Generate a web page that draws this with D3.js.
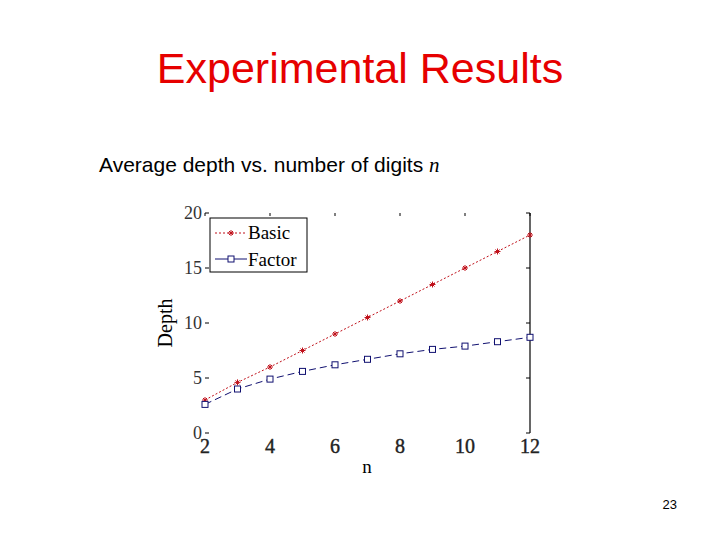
<!DOCTYPE html>
<html><head><meta charset="utf-8">
<script src="https://cdn.jsdelivr.net/npm/d3@7"></script>
<style>body{margin:0;background:#fff}</style>
</head><body><div id="root"></div>
<script>
let nValues = [2, 3, 4, 5, 6, 7, 8, 9, 10, 11, 12];
let basic = [3.0, 4.6, 6.0, 7.5, 9.0, 10.5, 12.0, 13.5, 15.0, 16.5, 18.0];
let factor = [2.6, 4.0, 4.9, 5.6, 6.2, 6.7, 7.2, 7.6, 7.9, 8.3, 8.7];
let xTicks = [2, 4, 6, 8, 10, 12];
let yTicks = [0, 5, 10, 15, 20];

let svg = d3.select('#root').append('svg').attr('width', 720).attr('height', 540);

svg.append('text').attr('x', 360).attr('y', 83).attr('text-anchor', 'middle')
    .attr('font-family', 'Liberation Sans, Arial').attr('font-size', 43).attr('fill', '#e60000')
    .text('Experimental Results');
let sub = svg.append('text').attr('x', 99).attr('y', 172)
    .attr('font-family', 'Liberation Sans, Arial').attr('font-size', 21).attr('fill', '#000');
sub.append('tspan').text('Average depth vs. number of digits ');
sub.append('tspan').attr('font-family', 'Liberation Serif, Times New Roman').attr('font-style', 'italic').text('n');
svg.append('text').attr('x', 677).attr('y', 509).attr('text-anchor', 'end')
    .attr('font-family', 'Liberation Sans, Arial').attr('font-size', 13).text('23');

let x = d3.scaleLinear().domain([2, 12]).range([205, 530]);
let y = d3.scaleLinear().domain([0, 20]).range([433, 213]);
let serif = 'Liberation Serif, Times New Roman';

// right spine
svg.append('line').attr('x1', x(12)).attr('x2', x(12)).attr('y1', y(20)).attr('y2', y(0))
    .attr('stroke', '#000').attr('stroke-width', 1.2);

// ticks
svg.selectAll('.yt').data(yTicks).join('line')
    .attr('x1', x(2)).attr('x2', x(2) + 4).attr('y1', d => y(d)).attr('y2', d => y(d)).attr('stroke', '#000');
svg.selectAll('.yr').data(yTicks).join('line')
    .attr('x1', x(12) - 4).attr('x2', x(12)).attr('y1', d => y(d)).attr('y2', d => y(d)).attr('stroke', '#000');
svg.selectAll('.xt').data(xTicks).join('line')
    .attr('x1', d => x(d)).attr('x2', d => x(d)).attr('y1', y(20)).attr('y2', y(20) + 3).attr('stroke', '#000');

svg.selectAll('.yl').data(yTicks).join('text')
    .attr('x', x(2) - 3).attr('y', d => y(d) + 6).attr('text-anchor', 'end')
    .attr('font-family', serif).attr('font-size', 18).attr('fill', '#333').text(d => d);
svg.selectAll('.xl').data(xTicks).join('text')
    .attr('x', d => x(d)).attr('y', 453).attr('text-anchor', 'middle')
    .attr('font-family', serif).attr('font-size', 20).attr('fill', '#222')
    .attr('stroke', '#222').attr('stroke-width', 0.4).text(d => d);
svg.append('text').attr('x', 367).attr('y', 473).attr('text-anchor', 'middle')
    .attr('font-family', serif).attr('font-size', 19).text('n');
svg.append('text').attr('transform', 'translate(172,323) rotate(-90)').attr('text-anchor', 'middle')
    .attr('font-family', serif).attr('font-size', 20).text('Depth');

let line = d3.line().x((d, i) => x(nValues[i])).y(d => y(d));
svg.append('path').datum(basic).attr('d', line).attr('fill', 'none')
    .attr('stroke', '#c0101a').attr('stroke-width', 1).attr('stroke-dasharray', '2,2');
svg.append('path').datum(factor).attr('d', line).attr('fill', 'none')
    .attr('stroke', '#101070').attr('stroke-width', 1).attr('stroke-dasharray', '7,4');

function star(g, cx, cy) {
    g.append('path').attr('d', `M${cx - 3},${cy}H${cx + 3}M${cx},${cy - 3}V${cy + 3}M${cx - 2},${cy - 2}L${cx + 2},${cy + 2}M${cx - 2},${cy + 2}L${cx + 2},${cy - 2}`)
        .attr('stroke', '#c0101a').attr('stroke-width', 1);
}
basic.forEach((d, i) => star(svg, x(nValues[i]), y(d)));
svg.selectAll('.sq').data(factor).join('rect')
    .attr('x', (d, i) => x(nValues[i]) - 3).attr('y', d => y(d) - 3)
    .attr('width', 6).attr('height', 6).attr('fill', '#fff').attr('stroke', '#101070');

// legend
svg.append('rect').attr('x', 210).attr('y', 218).attr('width', 97).attr('height', 54)
    .attr('fill', '#fff').attr('stroke', '#000');
svg.append('line').attr('x1', 215).attr('x2', 247).attr('y1', 233).attr('y2', 233)
    .attr('stroke', '#c0101a').attr('stroke-dasharray', '2,2');
star(svg, 231, 233);
svg.append('line').attr('x1', 215).attr('x2', 247).attr('y1', 259).attr('y2', 259).attr('stroke', '#101070');
svg.append('rect').attr('x', 228).attr('y', 256).attr('width', 6).attr('height', 6)
    .attr('fill', '#fff').attr('stroke', '#101070');
svg.append('text').attr('x', 248).attr('y', 239).attr('font-family', serif).attr('font-size', 19).text('Basic');
svg.append('text').attr('x', 248).attr('y', 266).attr('font-family', serif).attr('font-size', 19).text('Factor');
</script></body></html>
